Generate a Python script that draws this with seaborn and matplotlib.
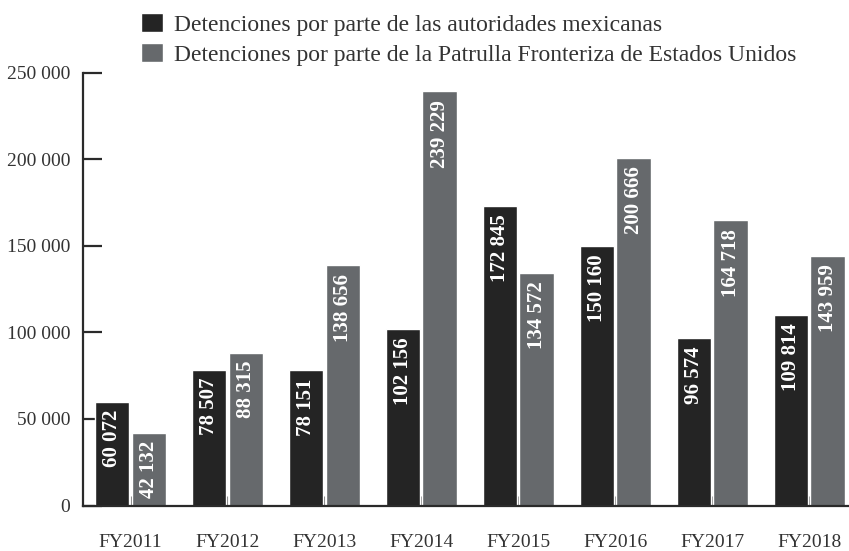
import matplotlib
matplotlib.use("Agg")
import matplotlib.pyplot as plt
import seaborn as sns
import pandas as pd

years = ["FY2011", "FY2012", "FY2013", "FY2014", "FY2015", "FY2016", "FY2017", "FY2018"]
series_names = [
    "Detenciones por parte de las autoridades mexicanas",
    "Detenciones por parte de la Patrulla Fronteriza de Estados Unidos",
]
mexico = [60072, 78507, 78151, 102156, 172845, 150160, 96574, 109814]
usa = [42132, 88315, 138656, 239229, 134572, 200666, 164718, 143959]
yticks = [0, 50000, 100000, 150000, 200000, 250000]
colors = ["#242424", "#66696c"]

df = pd.DataFrame({
    "year": years * 2,
    "series": [series_names[0]] * len(years) + [series_names[1]] * len(years),
    "value": mexico + usa,
})

sns.set_theme(style="white")
plt.rcParams["font.family"] = ["Liberation Serif", "DejaVu Serif"]
text_color = "#333333"

fig = plt.figure(figsize=(8.49, 5.51), dpi=100)
W, H = 849, 551
left_px, right_px, top_px, bottom_px = 82.7, 849, 72.7, 505.5
ax = fig.add_axes([left_px / W, (H - bottom_px) / H, (right_px - left_px) / W, (bottom_px - top_px) / H])

sns.barplot(data=df, x="year", y="value", hue="series", palette=colors,
            width=0.76, gap=0.06, saturation=1, ax=ax, order=years,
            hue_order=series_names)

handles, labels = ax.get_legend_handles_labels()
if ax.get_legend() is not None:
    ax.get_legend().remove()

ax.set_xlim(-0.493, 7.41)
ax.set_ylim(0, 250000)
ax.set_yticks(yticks)
ax.set_yticklabels([f"{v:,}".replace(",", " ") for v in yticks])
ax.set_xlabel("")
ax.set_ylabel("")

for s in ["top", "right"]:
    ax.spines[s].set_visible(False)
for s in ["left", "bottom"]:
    ax.spines[s].set_visible(True)
    ax.spines[s].set_linewidth(1.6)
    ax.spines[s].set_color("#2a2a2a")
ax.spines["left"].set_zorder(0.5)

ax.tick_params(axis="y", direction="in", length=13.7, width=1.6, color="#2a2a2a",
               labelsize=14, labelcolor=text_color, pad=9, left=True)
ax.tick_params(axis="x", direction="in", length=7, width=0.8, color="#777777",
               labelsize=14, labelcolor=text_color, pad=20.5, bottom=True)

for cont in ax.containers:
    for bar in cont:
        h = bar.get_height()
        ax.annotate(f"{int(round(h)):,}".replace(",", " "),
                    xy=(bar.get_x() + bar.get_width() / 2, h),
                    xytext=(0, -6), textcoords="offset points",
                    rotation=90, ha="center", va="top",
                    color="white", fontsize=15, fontweight="bold")

leg = fig.legend(handles, labels, loc="upper left",
                 bbox_to_anchor=(141 / W, 1 - 13 / H), frameon=False,
                 fontsize=17, handlelength=0.95, handleheight=0.85,
                 handletextpad=0.45, labelspacing=0.32, borderpad=0,
                 borderaxespad=0)
for t in leg.get_texts():
    t.set_color(text_color)

fig.savefig("out.png", dpi=100)
